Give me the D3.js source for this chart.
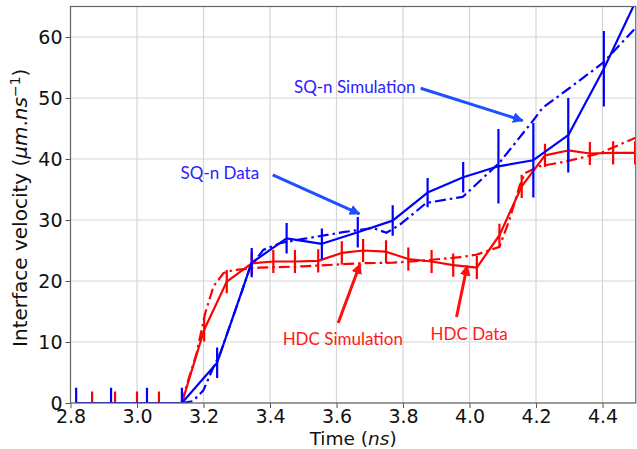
<!DOCTYPE html>
<html>
<head>
<meta charset="utf-8">
<script src="https://cdn.jsdelivr.net/npm/d3@7"></script>
<style>
  body { margin: 0; background: #fff; }
  svg { display: block; }
</style>
</head>
<body>
<svg width="637" height="449"></svg>
<script>
// SQ-n data (solid blue, with error bars)
var sqTime = [2.817, 2.922, 3.03, 3.135, 3.241, 3.345, 3.45, 3.556, 3.664, 3.769, 3.874, 3.981, 4.087, 4.192, 4.297, 4.404, 4.51];
var sqVel  = [0, 0, 0, 0, 6.6, 23.0, 27.0, 26.1, 28.0, 29.9, 34.5, 37.0, 38.8, 39.8, 43.9, 54.8, 67];
var sqErr  = [2.5, 2.5, 2.5, 2.5, 2.5, 2.4, 2.5, 2.5, 2.5, 2.5, 2.4, 2.5, 6.1, 6.1, 6.1, 6.2, 6];

// SQ-n simulation (dash-dot blue)
var sqSimTime = [3.134, 3.168, 3.2, 3.23, 3.25, 3.31, 3.34, 3.38, 3.43, 3.5, 3.62, 3.71, 3.75, 3.79, 3.87, 3.98, 4.09, 4.19, 4.22, 4.3, 4.4, 4.5];
var sqSimVel  = [0, 0.3, 2.1, 5.9, 8.1, 17.4, 22.3, 25.1, 26.2, 26.9, 28.0, 28.7, 27.9, 29.2, 32.8, 33.8, 39.4, 46.2, 48.4, 51.6, 55.7, 61.5];

// HDC data (solid red, with error bars)
var hdcTime = [2.865, 2.934, 3.0, 3.066, 3.135, 3.202, 3.27, 3.345, 3.41, 3.475, 3.545, 3.616, 3.68, 3.749, 3.816, 3.886, 3.951, 4.022, 4.09, 4.157, 4.227, 4.297, 4.362, 4.432, 4.498];
var hdcVel  = [0, 0, 0, 0, 0, 12.0, 19.9, 22.9, 23.2, 23.2, 23.3, 24.6, 25.0, 24.8, 23.6, 23.2, 22.6, 22.2, 27.5, 35.5, 40.6, 41.4, 40.9, 41.0, 41.0];
var hdcErr  = [1.9, 1.9, 1.9, 1.9, 0, 1.9, 1.9, 1.9, 1.9, 1.9, 1.9, 1.9, 1.9, 1.9, 1.9, 1.9, 1.9, 1.9, 1.9, 1.9, 1.9, 1.9, 1.9, 1.9, 1.9];

// HDC simulation (dash-dot red)
var hdcSimTime = [3.134, 3.15, 3.179, 3.205, 3.23, 3.26, 3.29, 3.37, 3.5, 3.67, 3.77, 3.87, 3.97, 4.02, 4.09, 4.12, 4.15, 4.167, 4.21, 4.29, 4.39, 4.5];
var hdcSimVel  = [0, 3, 8.1, 14.7, 19.1, 21.3, 21.8, 22.2, 22.4, 22.9, 23.0, 23.4, 23.9, 24.3, 25.6, 30, 35.5, 37.7, 38.8, 39.6, 40.9, 43.5];

var xTicks = [2.8, 3.0, 3.2, 3.4, 3.6, 3.8, 4.0, 4.2, 4.4];
var yTicks = [0, 10, 20, 30, 40, 50, 60];

// annotations: label, text anchor (time, vel), arrow from -> to
var noteText  = ["SQ-n Simulation", "SQ-n Data", "HDC Simulation", "HDC Data"];
var noteAt    = [[3.472, 50.9], [3.131, 36.7], [3.438, 9.5], [3.883, 10.3]];
var noteFrom  = [[3.853, 51.6], [3.408, 37.4], [3.605, 13.1], [3.961, 14.1]];
var noteTo    = [[4.160, 46.3], [3.669, 31.0], [3.671, 22.8], [3.993, 22.5]];
var noteColor = ["blue", "blue", "red", "red"];

var svg = d3.select("svg"),
    margin = {top: 6.5, right: 1.25, bottom: 46, left: 70.5},
    width = 637 - margin.left - margin.right,
    height = 449 - margin.top - margin.bottom;

var x = d3.scaleLinear().domain([2.8, 4.5]).range([0, width]);
var y = d3.scaleLinear().domain([0, 65]).range([height, 0]);

var g = svg.append("g").attr("transform", "translate(" + margin.left + "," + margin.top + ")");

g.append("clipPath").attr("id", "clip")
    .append("rect").attr("width", width).attr("height", height);

// grid
g.append("g").selectAll("line").data(xTicks).enter().append("line")
    .attr("x1", function (d) { return x(d); }).attr("x2", function (d) { return x(d); })
    .attr("y1", 0).attr("y2", height)
    .style("stroke", "#d6d6d6").style("stroke-width", "1.2px");
g.append("g").selectAll("line").data(yTicks).enter().append("line")
    .attr("x1", 0).attr("x2", width)
    .attr("y1", function (d) { return y(d); }).attr("y2", function (d) { return y(d); })
    .style("stroke", "#d6d6d6").style("stroke-width", "1.2px");

var plot = g.append("g").attr("clip-path", "url(#clip)");

function zip(a, b) { return a.map(function (v, i) { return [v, b[i]]; }); }

var line = d3.line().x(function (d) { return x(d[0]); }).y(function (d) { return y(d[1]); });

function drawSeries(tt, vv, color, dashed) {
    plot.append("path")
        .attr("d", line(zip(tt, vv)))
        .style("fill", "none")
        .style("stroke", color)
        .style("stroke-width", "2.2px")
        .style("stroke-linejoin", "round")
        .style("stroke-dasharray", dashed ? "11,4,2.5,4" : null);
}

function drawErrors(tt, vv, ee, color) {
    var pts = zip(tt, vv).map(function (p, i) { return {t: p[0], v: p[1], e: ee[i]}; })
        .filter(function (p) { return p.e > 0; });
    plot.append("g").selectAll("line").data(pts).enter().append("line")
        .attr("x1", function (d) { return x(d.t); })
        .attr("x2", function (d) { return x(d.t); })
        .attr("y1", function (d) { return y(d.v - d.e); })
        .attr("y2", function (d) { return y(d.v + d.e); })
        .style("stroke", color)
        .style("stroke-width", "2.2px");
}

drawSeries(sqSimTime, sqSimVel, "#0000ff", true);
drawSeries(hdcSimTime, hdcSimVel, "#ff0000", true);
drawErrors(hdcTime, hdcVel, hdcErr, "#ff0000");
drawSeries(hdcTime, hdcVel, "#ff0000", false);
drawErrors(sqTime, sqVel, sqErr, "#0000ff");
drawSeries(sqTime, sqVel, "#0000ff", false);

// axes
var xAxis = d3.axisBottom(x).tickValues(xTicks).tickFormat(d3.format(".1f")).tickSize(5).tickPadding(2);
var yAxis = d3.axisLeft(y).tickValues(yTicks).tickFormat(d3.format("d")).tickSize(5).tickPadding(3);

var xg = g.append("g").attr("transform", "translate(0," + height + ")").call(xAxis);
var yg = g.append("g").call(yAxis);
[xg, yg].forEach(function (a) {
    a.select(".domain").remove();
    a.selectAll(".tick line").style("stroke", "#555");
    a.selectAll("text").style("font-family", "DejaVu Sans").style("font-size", "19px").style("fill", "#111");
});

// frame
g.append("rect").attr("width", width).attr("height", height)
    .style("fill", "none").style("stroke", "#666").style("stroke-width", "1.2px");

// axis titles
var xl = svg.append("text")
    .attr("x", margin.left + width / 2).attr("y", 445)
    .attr("text-anchor", "middle")
    .style("font-family", "DejaVu Sans").style("font-size", "18.5px").style("fill", "#111");
xl.append("tspan").text("Time (");
xl.append("tspan").style("font-style", "italic").text("ns");
xl.append("tspan").text(")");

var yl = svg.append("text")
    .attr("transform", "translate(27," + (margin.top + height / 2 + 3) + ") rotate(-90)")
    .attr("text-anchor", "middle")
    .style("font-family", "DejaVu Sans").style("font-size", "20px").style("fill", "#111");
yl.append("tspan").text("Interface velocity (");
yl.append("tspan").style("font-style", "italic").text("\u03bcm");
yl.append("tspan").text(".");
yl.append("tspan").style("font-style", "italic").text("ns");
yl.append("tspan").attr("dy", -7).style("font-size", "14px").text("\u22121");
yl.append("tspan").attr("dy", 7).text(")");

// annotations
var defs = svg.append("defs");
["blue", "red"].forEach(function (c) {
    defs.append("marker")
        .attr("id", "head-" + c)
        .attr("viewBox", "0 0 10 10").attr("refX", 9).attr("refY", 5)
        .attr("markerWidth", 3.6).attr("markerHeight", 3.6)
        .attr("markerUnits", "strokeWidth")
        .attr("orient", "auto")
        .append("path").attr("d", "M0,0 L10,5 L0,10 Z")
        .style("fill", c == "blue" ? "#1f50ff" : "#ff1010");
});

noteText.forEach(function (t, i) {
    var c = noteColor[i];
    g.append("line")
        .attr("x1", x(noteFrom[i][0])).attr("y1", y(noteFrom[i][1]))
        .attr("x2", x(noteTo[i][0])).attr("y2", y(noteTo[i][1]))
        .style("stroke", c == "blue" ? "#1f50ff" : "#ff1010")
        .style("stroke-width", "3px")
        .attr("marker-end", "url(#head-" + c + ")");
    g.append("text")
        .attr("x", x(noteAt[i][0])).attr("y", y(noteAt[i][1]))
        .style("font-family", "Lato").style("font-size", "17px")
        .style("fill", c == "blue" ? "#2a22ff" : "#ff1a1a")
        .text(t);
});
</script>
</body>
</html>
